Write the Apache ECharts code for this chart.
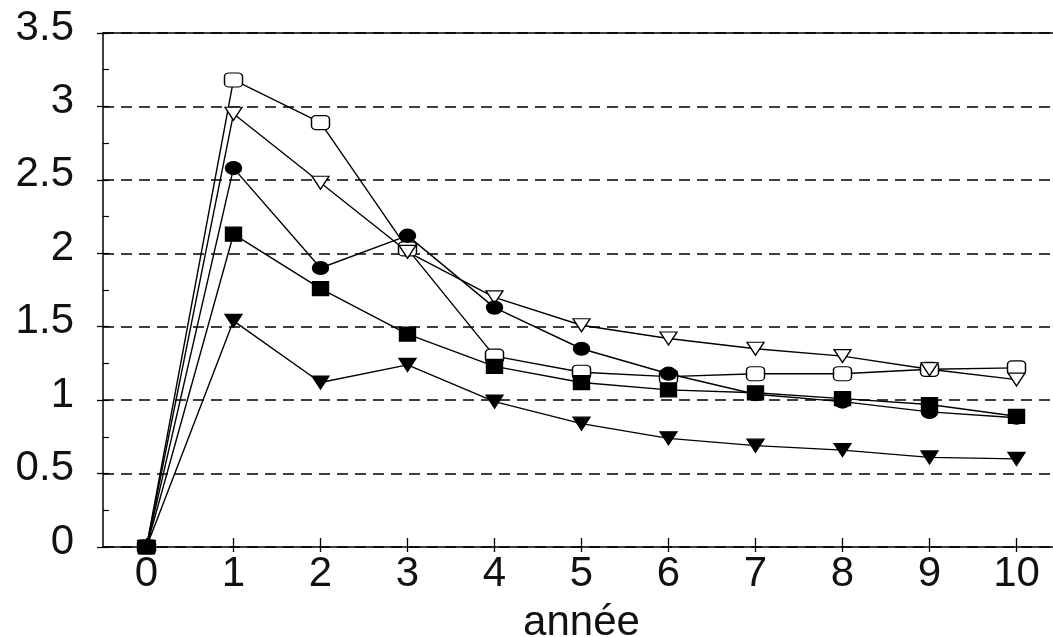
<!DOCTYPE html>
<html>
<head>
<meta charset="utf-8">
<script src="https://cdn.jsdelivr.net/npm/echarts@6/dist/echarts.min.js"></script>
<style>
html,body{margin:0;padding:0;background:#fff;}
#chart{width:1053px;height:637px;}
</style>
</head>
<body>
<div id="chart"></div>
<script>
const years = ['0','1','2','3','4','5','6','7','8','9','10'];
const openSquare   = [0, 3.18, 2.89, 2.03, 1.30, 1.19, 1.16, 1.18, 1.18, 1.21, 1.22];
const openTriangle = [0, 2.95, 2.48, 2.01, 1.70, 1.51, 1.42, 1.35, 1.30, 1.21, 1.14];
const filledCircle = [0, 2.58, 1.90, 2.12, 1.63, 1.35, 1.18, 1.04, 0.99, 0.92, 0.88];
const filledSquare = [0, 2.13, 1.76, 1.45, 1.23, 1.12, 1.07, 1.05, 1.01, 0.97, 0.89];
const filledTriangle = [0, 1.54, 1.12, 1.24, 0.99, 0.84, 0.74, 0.69, 0.66, 0.61, 0.60];
const xTitle = 'année';

const FONT = 'Liberation Sans, Arial, sans-serif';
const lineStyle = {color:'#000', width:1.4};

function mk(name, data, symbol, size, filled, rotate){
  return {
    name, type:'line', data, symbol, symbolSize:size, symbolRotate:rotate||0,
    showAllSymbol:true,
    lineStyle, 
    itemStyle:{color: filled ? '#000' : '#fff', borderColor:'#000', borderWidth:1.3},
    emphasis:{disabled:true}, animation:false
  };
}

const chart = echarts.init(document.getElementById('chart'));
chart.setOption({
  backgroundColor:'#fff',
  animation:false,
  grid:{left:103, top:33, width:957, height:514, containLabel:false, outerBoundsMode:'none'},
  xAxis:[
    {type:'category', data:years, boundaryGap:true, position:'bottom',
     axisLine:{show:true, lineStyle:{color:'#000', width:1.5}},
     axisTick:{show:true, alignWithLabel:true, inside:true, length:9, lineStyle:{color:'#000', width:1.3}},
     axisLabel:{show:true, color:'#111', fontFamily:FONT, fontSize:42, margin:6},
     splitLine:{show:false},
     name:xTitle, nameLocation:'middle', nameGap:55,
     nameTextStyle:{color:'#111', fontFamily:FONT, fontSize:42}
    },
    {type:'category', data:years, boundaryGap:true, position:'bottom',
     axisLine:{show:false},
     axisTick:{show:true, alignWithLabel:true, inside:false, length:5, lineStyle:{color:'#000', width:1.3}},
     axisLabel:{show:false}, splitLine:{show:false}
    },
    {type:'category', data:years, boundaryGap:true, position:'top',
     axisLine:{show:true, lineStyle:{color:'#000', width:1.5}},
     axisTick:{show:false}, axisLabel:{show:false}, splitLine:{show:false}
    }
  ],
  yAxis:[
    {type:'value', min:0, max:3.5, interval:0.5, position:'left',
     axisLine:{show:true, lineStyle:{color:'#000', width:1.5}},
     axisTick:{show:true, inside:false, length:6, lineStyle:{color:'#000', width:1.3}},
     axisLabel:{show:true, color:'#111', fontFamily:FONT, fontSize:42, margin:29,
       verticalAlign:'bottom', lineHeight:10},
     splitLine:{show:true, lineStyle:{color:'#000', width:1.5, type:[11,7]}}
    },
    {type:'value', min:0, max:3.5, interval:0.25, position:'left',
     axisLine:{show:false},
     axisTick:{show:true, inside:true, length:6, lineStyle:{color:'#000', width:1.2}},
     axisLabel:{show:false}, splitLine:{show:false}
    }
  ],
  series:[
    mk('open square', openSquare, 'roundRect', [18,14], false),
    mk('open triangle', openTriangle, 'triangle', [17,13], false, 180),
    mk('filled circle', filledCircle, 'circle', [16,13], true),
    mk('filled square', filledSquare, 'rect', [16,14], true),
    mk('filled triangle', filledTriangle, 'triangle', [17,13], true, 180)
  ]
});
</script>
</body>
</html>
